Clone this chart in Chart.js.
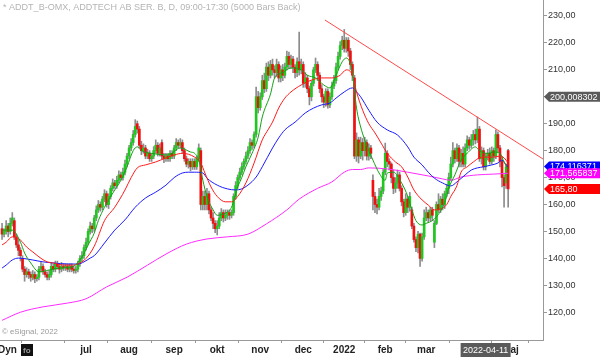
<!DOCTYPE html>
<html><head><meta charset="utf-8">
<script src="https://cdn.jsdelivr.net/npm/chart.js@4/dist/chart.umd.min.js"></script>
<style>html,body{margin:0;padding:0;background:#fff;overflow:hidden}</style>
</head><body>
<canvas id="c" width="600" height="357" style="display:block;width:600px;height:357px"></canvas>
<script>
// ---- data (trading-day index 0..247) ----
const opens=[151,149,150,152,150,153,154,148,145,143,
140,136,134,135,134,133,134,132.5,133,136,
137,135,134,133,134,137,136,138,137,136,
137,136.5,137,136,137,136,135.5,136,138,140,
141,144,146,150,152,151,155,158,160,159,
162,164,160,163,166,168,167,169,171,170,
172,175,178,181,183,186,190,188,182,180,
181,178,179,177,178,180,182,179,183,178,
177,178,177,179,178,181,183,182,183,180,
177,175,176,174,176,174,177,180,160,163,
160,164,158,155,153,151,152,155,157,155,
156,157,156,157,163,167,170,172,174,176,
178,180,183,182,186,200,196,200,206,203,
211,208,212,210,209,212,207,210,208,211,
215,212,214,211,209,213,210,212,205,207,
203,200,205,210,212,208,203,200,198,202,
197,200,204,206,211,215,219,221,218,221,
217,212,207,178,184,178,183,180,183,178,
181,169,163,160,159,163,165,172,179,176,
175,170,166,168,171,166,161,157,162,159,
158,152,147,144,149,140,148,155,157,155,
158,146,153,160,158,162,160,164,166,170,
175,180,177,181,176,179,175,181,184,182,
184,186,184,188,177,180,174,178,179,176,
180,178,186,181,176,170,168,180];
const highs=[153,151,154,153,155,157,155,149,147,144,
141,137,136.5,136,135,135.5,135,134,137,138.5,
138,136,135,135.5,138.5,138,139,139,138,138.5,
138,138,138,138,138,137,137,139,141,142.5,
145,147.5,151,153.5,153,156,159.5,161.5,161,163,
165.5,165,164,167,169.5,169,170.5,172.5,172,173.5,
176.5,179,182,184.5,187.5,191.5,191,189,183.5,182.5,
182,180.5,180,179,181.5,184,183,182.5,184,179,
179,179,180,180,182,184.5,184,184.5,184,181,
178,177,177,177,177,178,182.5,181,165,165,
166,165,159,157,154,154,157,158.5,158,158,
158,158,158,164,168.5,171,173.5,175.5,177,179.5,
181.5,184.5,184,187,203.6,202,201.5,208,208.8,212.5,
213,213.5,214,211.5,214,213,211.5,212,212.5,217,
216.6,215.5,215,212,214.5,224,214,213,209,208,
204,206,211,214.4,213,209,204.5,201,203,203,
201.5,205.5,208,212.5,216.6,220.5,222.5,225,222,222,
218,213,208,186.6,185,185,184.5,185,184,182.5,
182,171,164.5,162,166,166.5,173,182.8,180,177,
175.5,172.8,170,172.8,172,167,162,164,163,164.5,
159,153,148,150,149.4,149.4,158,159,158,159,
159,154,161,164,163,164,165,167.5,171.7,177.6,
183,181,182.5,182,180.5,181.4,182.5,185.5,185,186,
187.5,188,192.5,189,181.4,181,179,180.5,181,181.4,
181,187.7,187,182,177.6,171,175,180.5];
const lows=[147,148,149,148,149,152,147,144,141,139,
135,131.5,133,132.5,131.5,132,131,131.5,132,135,
134,133,132,132,133,135,135,136,134.5,135,
135.5,135.5,135,135,135,134.5,134.5,135,137,139,
140,143,145,149,149.5,150,154,157,157.5,158,
161,159,158.5,162,165,166,166,168,169,169,
171,174,177,180,182,185,186.5,181,178.5,179,
177,177,176,176,177,179,178,178,177,175.5,
176,176,176,177,177,180,181,181,179,176,
174,173.5,172.5,173,173,173,176,158,158,158,
158,156.5,154,151,149.5,148.7,151,154,153.5,154,
154.5,154.5,155,156,162,166,169,171,173,175,
177,179,180.5,181,185,194,195,199,201.5,202,
206,207,208,207,207.5,205.5,205.5,206,207,210,
210.5,210.5,209,207,207.5,208,208.5,203.5,203.5,201.5,
197,198.5,204,209,206,201.5,198,196,196.5,195.8,
196,199,203,205,210,214,217.5,216.6,216.5,215,
210,206,177,176,175.4,177,176.5,178,176.5,176.5,
177,158,157,156.5,158,161.5,164,171,174,172.8,
168,164,164.5,166,165,159.5,155.4,156,157,157.5,
151,146,142.5,142,137,139,147,154,153.5,154,
154,144,152.5,157,157,158,158.5,163,164,169,
174,175.4,176,174,174,174,174,180,180.5,181,
182,182.5,183,176,175,172.8,172.8,176.5,175,175,
176,177,179.5,174,166.5,159,166,159];
const closes=[149,150,152,150,153,155,148,145,143,141,
136,134,135,134,133,134,132.5,133,136,137,
135,134,133,134,137,136,138,137,136,137,
136.5,137,136,137,136,135.5,136,138,140,141,
144,146,150,152,151,155,158,160,159,162,
164,160,163,166,168,167,169,171,170,172,
175,178,181,183,186,189,188,182,180,181,
178,179,177,178,180,182,179,181,178,177,
178,177,179,178,181,183,182,183,180,177,
175,176,174,176,174,177,181,160,163,160,
164,158,155,153,151,152,155,157,155,156,
157,156,157,163,167,170,172,174,176,178,
180,183,182,186,200,196,200,206,203,211,
208,212,210,209,212,207,210,208,211,215,
212,214,211,209,213,210,212,205,207,203,
200,205,210,212,208,203,200,198,202,197,
200,204,206,211,215,219,221,218,221,217,
212,208,178,184,178,183,180,183,178,181,
179,163,160,159,163,165,172,179,176,175,
170,166,168,171,166,161,157,162,159,163,
152,147,144,149,140,148,155,157,155,158,
156,153,160,158,162,160,164,166,170,175,
180,177,181,176,179,175,181,184,182,184,
186,184,188,177,180,174,178,179,176,180,
178,186,181,176,170,167,174,165.8];

// moving averages (day index, value)
const greenIdx=[0,5,9,11,14,18,23,28,34,39,42,45,47,50,55,58,61,64,66,68,73,81,87,92,94,96,98,100,103,105,109,112,115,117,119,122,125,127,131,133,137,141,146,149,153,157,160,163,166,168,171,173,175,177,179,181,184,187,188,191,195,198,200,202,205,207,210,212,215,217,218,221,224,227,231,233,237,240,243,245,247];
const greenVal=[150.5,150.5,146,142,138.3,135,135.7,136.4,136.8,140.5,145,149.4,154,159,165.4,169,174,180,181.4,180,179,178.4,181,179.5,179,176.5,169,163,158,156,156.8,159,166.5,170,174,179,185,192.5,201,207,209,210.7,210,208,207,204.4,203.3,208,213,214.4,209,195.8,188.8,184,180,176.5,171.7,169,171.7,172,168,163,158,154,152.4,153,154,155.4,159,163,166,171,176.5,179,181.4,180,179,179.5,179,175.8,173];
const redIdx=[0,2,5,9,12,15,19,22,25,30,35,38,41,45,50,55,60,63,66,70,75,80,84,88,94,97,99,102,105,109,112,115,119,123,127,130,132,135,138,141,146,151,156,161,165,168,171,173,176,179,182,185,188,192,195,198,201,205,208,211,215,217,219,222,224,227,230,233,237,240,243,245,247];
const redVal=[145,146,148,146.8,144.2,142.4,140,138.7,138.3,137.5,137.5,138.3,140,144.5,154,159,165.4,170,173.6,174.7,175.8,177.3,178.4,179,177.6,175.4,171.7,166.5,163,161,161,163,168,175.4,184,188,190.6,195.8,199.5,201.8,204.4,206.2,207,207,208,210,208,201.8,195,190,186.6,182.8,179,175.8,174,170.2,165.4,161.7,159.8,158,158.7,160,163,167,172,174,175.8,177.3,177.6,177.6,178,177.3,175.4];
const blueIdx=[0,2,5,8,10,15,20,25,32,37,40,43,45,50,55,60,65,70,75,80,84,88,91,94,98,100,105,110,114,117,120,124,127,132,135,138,143,148,152,156,160,163,167,171,173,175,179,183,188,193,198,201,205,208,211,215,219,222,226,229,232,235,239,242,244,246,247];
const blueVal=[136.4,137.5,139.4,140.1,140,139.4,138.7,138.3,137.9,137.9,138.7,140.1,141,145.7,150.5,154.3,159,162.4,164.6,167.2,170,171.7,172,172,171.7,169.8,167.2,165.8,165.4,165.8,167.2,170.2,174,181,184.7,187.7,190.6,194,195.8,197,197.7,199.5,201.8,203.3,201.8,200,195,190.6,187.7,185.8,181.4,177.6,174.7,172,169.8,168,166.9,168.4,171,172.8,173.6,174,174.7,175.4,176.5,174.7,174.1];
const magIdx=[0,9,20,32,41,51,61,71,80,90,100,110,120,129,139,145,154,161,167,171,175,179,188,198,208,215,219,224,232,240,247];
const magVal=[117,120,122,123.4,125,129.4,133,137.5,141.6,145.3,147.2,148,149,152.8,158,162,166,168.4,172,173,173,173.6,173.2,172,170.6,169.5,169,170.2,171,171.3,171.6];
const trendIdx=[157.6,264];
const trendVal=[228.5,176.9];

const monthIdx=[20,41,62,84,105,126,147,167,187,207,230,248];
const monthLabels=['','jul','aug','sep','okt','nov','dec','2022','feb','mar','apr','maj'];
const yTicks=[120,130,140,150,160,170,180,190,200,210,220,230];
const tagValues=[200.008302,174.116371,171.565837,165.80];
const tagLabels=['200,008302','174,116371','171,565837','165,80'];
const tagColors=['#5a5a5a','#0000ff','#ff00ff','#ff0000'];
const crossIdx=236, crossLabel='2022-04-11';
const titleText='* ADDT_B-OMX, ADDTECH AB SER. B, D, 09:00-17:30 (5000 Bars Back)';
const creditText='\u00A9 eSignal, 2022';

const FONT='"Liberation Sans", Arial, sans-serif';
const pts=(xs,ys)=>xs.map((x,i)=>({x:x,y:ys[i]}));

const overlay={
  id:'overlay',
  afterDraw(chart){
    const ctx=chart.ctx, ca=chart.chartArea, ys=chart.scales.y, xs=chart.scales.x;
    ctx.save();
    // title
    ctx.font='10px '+FONT;
    let w=ctx.measureText(titleText).width;
    ctx.font=(10*298/w).toFixed(2)+'px '+FONT;
    ctx.fillStyle='#b4b4b4'; ctx.textBaseline='middle'; ctx.textAlign='left';
    ctx.fillText(titleText,3,8);
    // credit
    ctx.font='9px '+FONT;
    w=ctx.measureText(creditText).width;
    ctx.font=(9*56/w).toFixed(2)+'px '+FONT;
    ctx.fillStyle='#9a9a9a';
    ctx.fillText(creditText,2,332);
    // Dyn + icon
    ctx.font='bold 10px '+FONT; ctx.fillStyle='#222';
    ctx.fillText('Dyn',-2,350);
    ctx.fillStyle='#111'; ctx.fillRect(21,344,12,12);
    ctx.font='bold 8px '+FONT; ctx.fillStyle='#999';
    ctx.fillText('fo',23,350.5);
    // crosshair date box
    const cx=xs.getPixelForValue(crossIdx);
    ctx.fillStyle='#5a5a5a'; ctx.fillRect(cx-25,343,50,14);
    ctx.font='9px '+FONT; ctx.fillStyle='#fff'; ctx.textAlign='center';
    ctx.fillText(crossLabel,cx,350.5);
    // price tags
    ctx.textAlign='left';
    tagValues.forEach((v,i)=>{
      const y=ys.getPixelForValue(v), x0=ca.right+1, h=10;
      ctx.fillStyle=tagColors[i];
      ctx.beginPath(); ctx.moveTo(x0,y); ctx.lineTo(x0+5,y-h/2); ctx.lineTo(600,y-h/2);
      ctx.lineTo(600,y+h/2); ctx.lineTo(x0+5,y+h/2); ctx.closePath(); ctx.fill();
      ctx.fillStyle='#fff'; ctx.font='9px '+FONT;
      ctx.fillText(tagLabels[i],x0+6,y+0.5);
    });
    ctx.restore();
  }
};

new Chart(document.getElementById('c'),{
  type:'bar',
  data:{datasets:[
    {type:'line',label:'trend',data:pts(trendIdx,trendVal),borderColor:'#ff4a4a',borderWidth:1,pointRadius:0,order:0},
    {type:'line',label:'ma-green',data:pts(greenIdx,greenVal),borderColor:'#14a014',borderWidth:1,pointRadius:0,cubicInterpolationMode:'monotone',order:1},
    {type:'line',label:'ma-red',data:pts(redIdx,redVal),borderColor:'#ff1a1a',borderWidth:1,pointRadius:0,cubicInterpolationMode:'monotone',order:2},
    {type:'line',label:'ma-blue',data:pts(blueIdx,blueVal),borderColor:'#1a1aff',borderWidth:1,pointRadius:0,cubicInterpolationMode:'monotone',order:3},
    {type:'line',label:'ma-mag',data:pts(magIdx,magVal),borderColor:'#ff2aff',borderWidth:1,pointRadius:0,cubicInterpolationMode:'monotone',order:4},
    {label:'bodies',data:closes.map((c,i)=>({x:i,y:[opens[i],c]})),
      backgroundColor:closes.map((c,i)=>c>=opens[i]?'#1ec81e':'#f01010'),
      barThickness:2,grouped:false,minBarLength:1,borderWidth:0,order:10},
    {label:'wicks',data:closes.map((c,i)=>({x:i,y:[lows[i],highs[i]]})),
      backgroundColor:'#8c8c8c',barThickness:1,grouped:false,borderWidth:0,order:11}
  ]},
  options:{
    responsive:false,animation:false,devicePixelRatio:1,
    layout:{padding:0},
    plugins:{legend:{display:false},tooltip:{enabled:false}},
    scales:{
      x:{type:'linear',position:'bottom',min:-1,max:264,offset:false,
        grid:{drawOnChartArea:false,tickLength:3,color:'#999'},
        border:{color:'#999'},
        ticks:{autoSkip:false,maxRotation:0,padding:1,color:'#222',font:{size:10,weight:'bold',family:FONT},
          callback:(v,i)=>monthLabels[i]},
        afterBuildTicks:s=>{s.ticks=monthIdx.map(v=>({value:v}));},
        afterFit:s=>{s.height=17;s.paddingLeft=0;s.paddingRight=0;}
      },
      y:{type:'linear',position:'right',min:109.69,max:235.94,
        grid:{drawOnChartArea:false,tickLength:4,color:'#999'},
        border:{color:'#999'},
        ticks:{padding:1,color:'#333',font:{size:9,family:FONT},
          callback:v=>v.toFixed(2).replace('.',',')},
        afterBuildTicks:s=>{s.ticks=yTicks.map(v=>({value:v}));},
        afterFit:s=>{s.width=57;s.paddingTop=0;s.paddingBottom=0;}
      }
    }
  },
  plugins:[overlay]
});
</script>
</body></html>
